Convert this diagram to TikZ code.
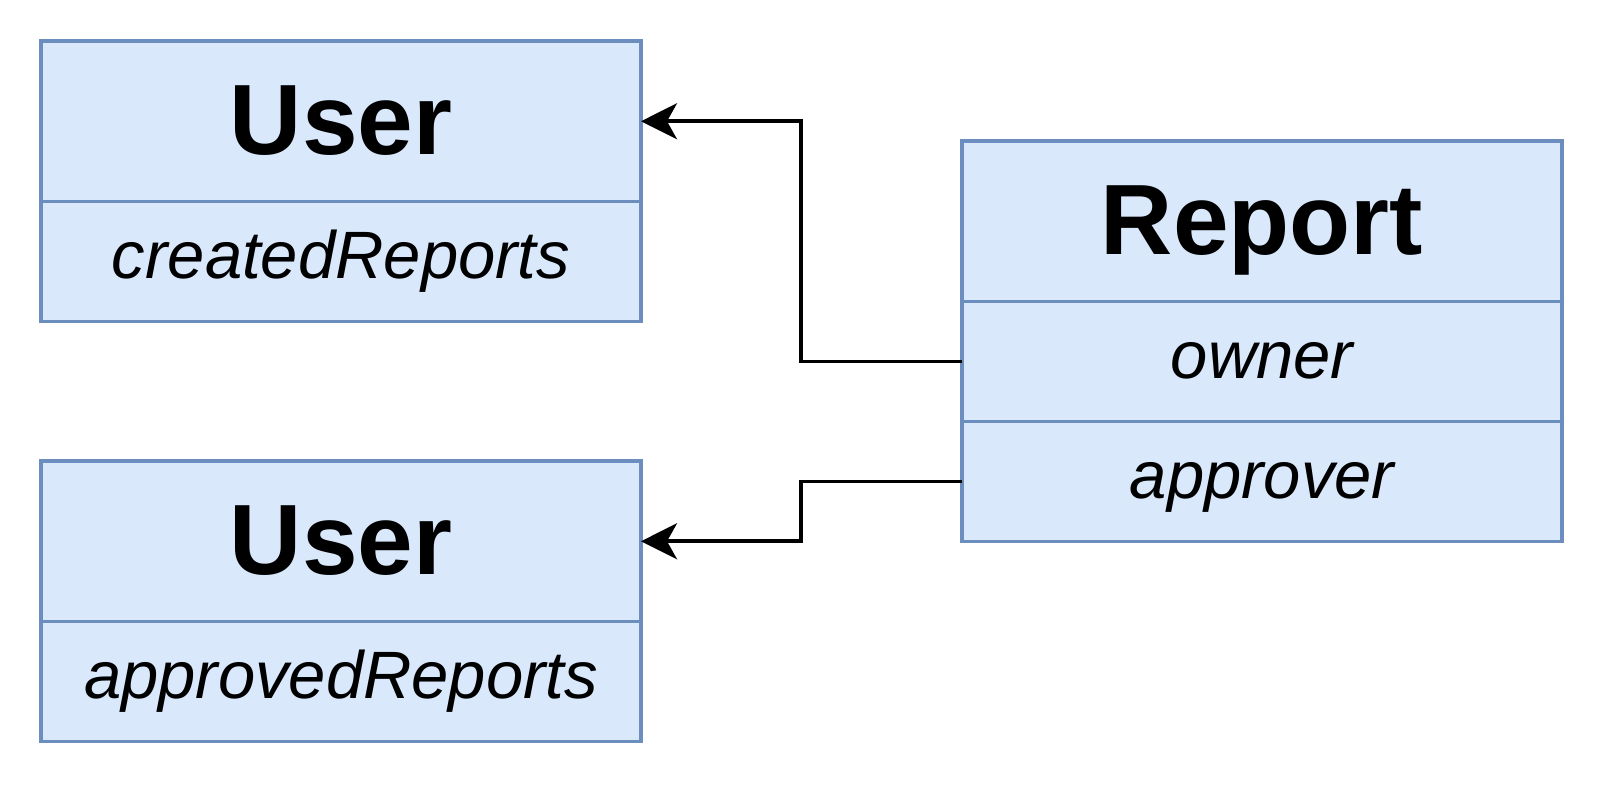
\documentclass[tikz,border=0pt]{standalone}
\usepackage{fontspec}
\setmainfont{Liberation Sans}
\usetikzlibrary{arrows.meta, positioning}
\definecolor{boxFill}{HTML}{DAE8FC}
\definecolor{boxLine}{HTML}{6C8EBF}
\tikzset{
    class head/.style={draw=boxLine, fill=boxFill, line width=1.9pt, outer sep=0pt, inner sep=0pt,
        minimum width=300pt, minimum height=80.25pt,
        text height=36pt, text depth=3pt,
        font=\fontsize{50}{60}\selectfont\bfseries},
    class field/.style={class head, minimum height=60pt,
        text height=24.1pt, text depth=6.7pt,
        font=\fontsize{33.5}{40}\selectfont\itshape},
    link/.style={line width=1.9pt, -{Stealth[length=18pt, width=18pt, inset=5pt]}},
    common settings/.style={x=0.5pt, y=-0.5pt, node distance=0pt}
}

\begin{document}
\begin{tikzpicture}[common settings]

    % Page frame
    \useasboundingbox (0,0) rectangle (1604,784);

    % 1. User classes
    \node[class head, anchor=north west] (createdHead) at (41,41) {User};
    \node[class field, below=of createdHead] (createdAttr) {createdReports};

    \node[class head, anchor=north west] (approvedHead) at (41,461) {User};
    \node[class field, below=of approvedHead] (approvedAttr) {approvedReports};

    % 2. Report class
    \node[class head, anchor=north west] (reportHead) at (962,141) {Report};
    \node[class field, below=of reportHead] (ownerAttr) {owner};
    \node[class field, below=of ownerAttr] (approverAttr) {approver};

    % 3. Associations
    \draw[link] (ownerAttr.west) -- ++(-161,0) |- (createdHead.east);
    \draw[link] (approverAttr.west) -- ++(-161,0) |- (approvedHead.east);

\end{tikzpicture}
\end{document}
